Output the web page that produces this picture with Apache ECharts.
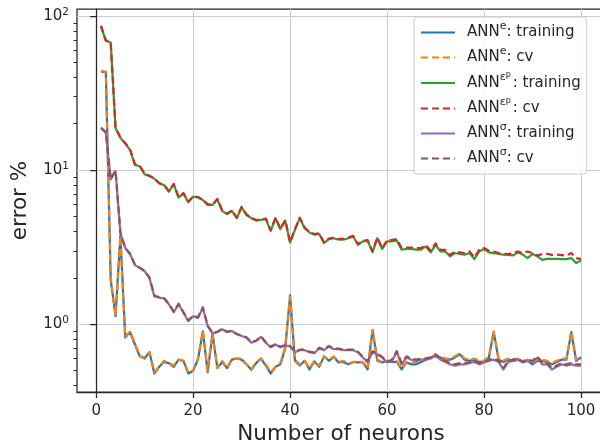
<!DOCTYPE html>
<html>
<head>
<meta charset="utf-8">
<script src="https://cdn.jsdelivr.net/npm/echarts@6/dist/echarts.min.js"></script>
<style>html,body{margin:0;padding:0;background:#fff;}#c{width:600px;height:440px;}</style>
</head>
<body>
<div id="c"></div>
<script>
const neurons = [1,2,3,4,5,6,7,8,9,10,11,12,13,14,15,16,17,18,19,20,21,22,23,24,25,26,27,28,29,30,31,32,33,34,35,36,37,38,39,40,41,42,43,44,45,46,47,48,49,50,51,52,53,54,55,56,57,58,59,60,61,62,63,64,65,66,67,68,69,70,71,72,73,74,75,76,77,78,79,80,81,82,83,84,85,86,87,88,89,90,91,92,93,94,95,96,97,98,99,100];

const annE_train = [43.5,43.2,1.95,1.13,3.75,0.82,0.89,0.74,0.62,0.6,
 0.66,0.48,0.53,0.57,0.56,0.53,0.59,0.58,0.48,0.5,
 0.59,0.9,0.49,0.87,0.52,0.57,0.52,0.59,0.6,0.59,
 0.55,0.507,0.56,0.6,0.54,0.48,0.53,0.55,0.7,1.54,
 0.58,0.54,0.58,0.51,0.575,0.53,0.62,0.58,0.615,0.566,
 0.57,0.55,0.57,0.566,0.566,0.51,0.915,0.58,0.566,0.58,
 0.57,0.57,0.51,0.566,0.55,0.55,0.57,0.59,0.61,0.62,
 0.61,0.59,0.59,0.61,0.64,0.59,0.58,0.59,0.57,0.57,
 0.61,0.89,0.59,0.57,0.59,0.58,0.59,0.57,0.58,0.55,
 0.58,0.58,0.57,0.55,0.57,0.59,0.59,0.89,0.58,0.61];

const annE_cv = [44.0,43.6,1.97,1.14,3.72,0.83,0.9,0.75,0.62,0.61,
 0.66,0.49,0.53,0.58,0.56,0.54,0.59,0.58,0.49,0.5,
 0.6,0.91,0.5,0.88,0.52,0.58,0.52,0.6,0.6,0.6,
 0.55,0.51,0.57,0.6,0.55,0.49,0.53,0.56,0.71,1.5,
 0.59,0.55,0.58,0.52,0.58,0.54,0.62,0.59,0.62,0.57,
 0.58,0.56,0.57,0.57,0.57,0.52,0.92,0.59,0.57,0.58,
 0.58,0.58,0.52,0.57,0.56,0.57,0.58,0.6,0.62,0.63,
 0.62,0.6,0.6,0.62,0.65,0.6,0.59,0.6,0.58,0.58,
 0.62,0.9,0.6,0.58,0.6,0.59,0.6,0.58,0.59,0.56,
 0.59,0.59,0.58,0.56,0.58,0.6,0.6,0.9,0.59,0.62];

const annEp_train = [85.3,69,67.3,18.7,16.2,14.9,13.5,10.8,10.6,9.4,
 9.15,8.8,8.2,8.0,7.25,8.1,6.63,7.07,6.2,6.73,
 6.65,6.4,5.95,5.95,6.45,5.44,5.18,5.44,4.88,5.74,
 5.12,4.88,4.71,4.76,4.81,4.04,4.88,4.14,4.71,3.4,
 4.1,4.88,4.2,3.94,3.81,3.86,3.37,3.57,3.62,3.54,
 3.54,3.62,3.71,3.28,3.45,3.48,2.94,3.62,3.08,3.45,
 3.45,3.5,3.05,3.08,3.08,3.05,3.05,3.2,2.93,3.28,
 2.97,2.97,2.76,2.9,2.86,2.83,2.9,2.65,2.97,3.08,
 2.93,2.9,2.86,2.83,2.82,2.8,2.93,2.83,2.69,2.86,
 2.76,2.62,2.66,2.66,2.66,2.65,2.65,2.69,2.5,2.59];

const annEp_cv = [86.5,69.5,67.5,18.9,16.3,15.0,13.6,10.9,10.7,9.45,
 9.2,8.85,8.25,8.05,7.3,8.15,6.68,7.1,6.25,6.78,
 6.7,6.45,6.0,6.0,6.5,5.48,5.22,5.48,4.92,5.78,
 5.16,4.92,4.75,4.8,4.85,4.07,4.92,4.17,4.75,3.4,
 4.14,4.92,4.24,3.98,3.85,3.9,3.4,3.6,3.66,3.58,
 3.58,3.66,3.75,3.31,3.49,3.52,2.97,3.66,3.11,3.52,
 3.52,3.58,3.13,3.15,3.15,3.12,3.12,3.27,3.0,3.35,
 3.04,3.04,2.82,2.97,2.93,2.9,2.97,2.72,3.04,3.13,
 3.0,2.97,2.9,2.87,2.86,2.9,2.97,2.9,2.97,2.9,
 2.79,2.86,2.87,2.82,2.83,2.81,2.79,2.9,2.69,2.65];

const annS_train = [18.7,17.4,8.7,9.87,3.9,3.12,2.85,2.42,2.32,2.21,
 2.0,1.52,1.49,1.47,1.35,1.2,1.35,1.19,1.05,1.13,
 1.1,1.28,0.975,0.875,0.89,0.93,0.89,0.905,0.862,0.84,
 0.82,0.76,0.78,0.83,0.76,0.71,0.74,0.71,0.73,0.72,
 0.66,0.68,0.68,0.66,0.65,0.7,0.68,0.72,0.69,0.69,
 0.68,0.68,0.68,0.66,0.61,0.57,0.66,0.64,0.61,0.566,
 0.58,0.66,0.55,0.61,0.59,0.58,0.59,0.59,0.6,0.63,
 0.59,0.57,0.55,0.54,0.55,0.55,0.56,0.57,0.55,0.566,
 0.58,0.59,0.57,0.51,0.57,0.58,0.59,0.566,0.58,0.57,
 0.61,0.55,0.55,0.51,0.53,0.55,0.54,0.55,0.54,0.54];

const annS_cv = [18.9,17.6,8.8,9.95,3.92,3.14,2.87,2.43,2.33,2.22,
 2.01,1.53,1.5,1.48,1.36,1.21,1.36,1.2,1.06,1.14,
 1.11,1.29,0.98,0.88,0.895,0.935,0.895,0.91,0.866,0.845,
 0.825,0.765,0.785,0.835,0.765,0.715,0.745,0.715,0.735,0.725,
 0.665,0.685,0.685,0.665,0.655,0.705,0.685,0.725,0.695,0.695,
 0.685,0.685,0.685,0.665,0.615,0.575,0.67,0.645,0.615,0.57,
 0.59,0.67,0.56,0.62,0.6,0.59,0.6,0.6,0.61,0.64,
 0.6,0.58,0.56,0.55,0.56,0.56,0.57,0.58,0.56,0.57,
 0.59,0.6,0.58,0.52,0.58,0.59,0.6,0.57,0.59,0.58,
 0.62,0.56,0.56,0.52,0.54,0.56,0.55,0.56,0.55,0.55];

const xTicks = [0,20,40,60,80,100];
const yMajor = [1,10,100];
const yMinor = [0.4,0.5,0.6,0.7,0.8,0.9,2,3,4,5,6,7,8,9,20,30,40,50,60,70,80,90];

const TXT = '#262626';
const FONT = 'DejaVu Sans';

function pairs(vals){ return neurons.map((n,i)=>[n, vals[i]]); }

function mkSeries(name, vals, color, dashed){
  return {
    name: name, type: 'line', data: pairs(vals),
    showSymbol: false, symbol: 'none', animation: false,
    lineStyle: {color: color, width: 2.2, type: dashed ? [7,4] : 'solid', cap: 'butt', join: 'round'},
    itemStyle: {color: color},
    emphasis: {disabled: true}
  };
}

const legendLabels = {
  e_tr: '{n0|ANN}{s|e}{n|: training}',
  e_cv: '{n0|ANN}{s|e}{n|: cv}',
  ep_tr: '{n0|ANN}{s|ε}{ss|p}{n|: training}',
  ep_cv: '{n0|ANN}{s|ε}{ss|p}{n|: cv}',
  s_tr: '{n0|ANN}{s|σ}{n|: training}',
  s_cv: '{n0|ANN}{s|σ}{n|: cv}'
};

const chart = echarts.init(document.getElementById('c'), null, {renderer: 'canvas'});
chart.setOption({
  animation: false,
  backgroundColor: '#fff',
  textStyle: {fontFamily: FONT},
  grid: {left: 77, width: 528, top: 9, bottom: 48, show: true, borderColor: TXT, borderWidth: 1.25,
         backgroundColor: 'transparent', containLabel: false, outerBoundsMode: 'none'},
  xAxis: {
    type: 'value', min: -3.95, max: 104.95,
    axisLine: {show: true, lineStyle: {color: TXT, width: 1.25}},
    axisTick: {show: true, customValues: xTicks, length: 6, lineStyle: {color: TXT, width: 1.25}},
    axisLabel: {customValues: xTicks, color: TXT, fontSize: 15, fontFamily: FONT, margin: 12},
    splitLine: {show: true, lineStyle: {color: '#cccccc', width: 1}},
    name: 'Number of neurons', nameLocation: 'middle', nameGap: 29,
    nameTextStyle: {color: TXT, fontSize: 21.5, fontFamily: FONT}
  },
  yAxis: [{
    type: 'log', logBase: 10, min: 0.364, max: 111,
    axisLine: {show: true, lineStyle: {color: TXT, width: 1.25}},
    axisTick: {show: true, customValues: yMajor, length: 6, lineStyle: {color: TXT, width: 1.25}},
    axisLabel: {
      customValues: yMajor, color: TXT, margin: 8,
      formatter: function(v){ return '{b|10}{s|' + Math.round(Math.log10(v)) + '}'; },
      rich: {b: {fontSize: 15, fontFamily: FONT, color: TXT}, s: {fontSize: 10.5, fontFamily: FONT, color: TXT, padding: [0,0,8,0]}}
    },
    splitLine: {show: true, lineStyle: {color: '#cccccc', width: 1}},
    name: 'error %', nameLocation: 'middle', nameGap: 46, nameRotate: 90,
    nameTextStyle: {color: TXT, fontSize: 21.5, fontFamily: FONT}
  }, {
    type: 'log', logBase: 10, min: 0.364, max: 111, position: 'left',
    axisLine: {show: false},
    axisTick: {show: true, customValues: yMinor, length: 3.5, lineStyle: {color: TXT, width: 1}},
    axisLabel: {show: false},
    splitLine: {show: false}
  }],
  legend: {
    orient: 'vertical', left: 414, top: 17,
    padding: [4, 6, 8, 6], itemGap: 6, itemWidth: 34, itemHeight: 14,
    backgroundColor: 'rgba(255,255,255,0.8)', borderColor: '#cccccc', borderWidth: 1, borderRadius: 3,
    itemStyle: {color: 'rgba(0,0,0,0)', borderWidth: 0, opacity: 0},
    data: ['e_tr','e_cv','ep_tr','ep_cv','s_tr','s_cv'],
    formatter: function(name){ return legendLabels[name]; },
    textStyle: {
      color: TXT, fontFamily: FONT,
      rich: {
        n0: {fontSize: 15, fontFamily: FONT, color: TXT, lineHeight: 23, padding: [0,0,0,7]},
        n: {fontSize: 15, fontFamily: FONT, color: TXT, lineHeight: 23},
        s: {fontSize: 11, fontFamily: FONT, color: TXT, padding: [0,0,12,0]},
        ss: {fontSize: 8, fontFamily: FONT, color: TXT, padding: [0,2,16,0]}
      }
    }
  },
  series: [
    mkSeries('e_tr', annE_train, '#1f77b4', false),
    mkSeries('e_cv', annE_cv, '#ff7f0e', true),
    mkSeries('ep_tr', annEp_train, '#2ca02c', false),
    mkSeries('ep_cv', annEp_cv, '#d62728', true),
    mkSeries('s_tr', annS_train, '#9467bd', false),
    mkSeries('s_cv', annS_cv, '#8c564b', true)
  ]
});
</script>
</body>
</html>
